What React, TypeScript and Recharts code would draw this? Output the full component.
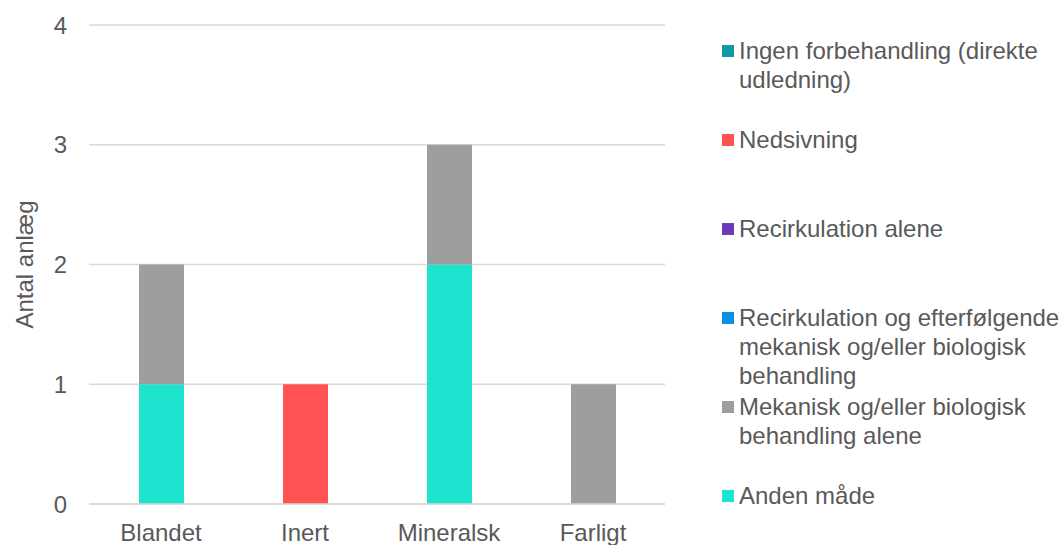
import { BarChart, Bar, XAxis, YAxis, CartesianGrid, Legend } from 'recharts';

const categories = ['Blandet', 'Inert', 'Mineralsk', 'Farligt'];

// stack order, bottom to top
const andenMaade = [1, 0, 2, 0];
const mekaniskAlene = [1, 0, 1, 1];
const recirkOgEfter = [0, 0, 0, 0];
const recirkAlene = [0, 0, 0, 0];
const nedsivning = [0, 1, 0, 0];
const ingenForbehandling = [0, 0, 0, 0];

const yTicks = [0, 1, 2, 3, 4];

const series = [
  { key: 'anden', name: 'Anden måde', color: '#1DE3CF', values: andenMaade },
  { key: 'mekanisk', name: 'Mekanisk og/eller biologisk\nbehandling alene', color: '#9E9E9E', values: mekaniskAlene },
  { key: 'recirkOg', name: 'Recirkulation og efterfølgende\nmekanisk og/eller biologisk\nbehandling', color: '#0A8EE6', values: recirkOgEfter },
  { key: 'recirk', name: 'Recirkulation alene', color: '#6A3AB8', values: recirkAlene },
  { key: 'nedsivning', name: 'Nedsivning', color: '#FF5252', values: nedsivning },
  { key: 'ingen', name: 'Ingen forbehandling (direkte\nudledning)', color: '#0E99A6', values: ingenForbehandling },
];

const data = categories.map((c, i) => {
  const row: Record<string, string | number> = { name: c };
  series.forEach((s) => { row[s.key] = s.values[i]; });
  return row;
});

const font = '"Liberation Sans", Arial, sans-serif';
const ink = '#595959';

function LegendBox() {
  const items = [...series].reverse();
  return (
    <div style={{ fontFamily: font, fontSize: 24, lineHeight: '29px', color: ink }}>
      {items.map((s) => (
        <div key={s.key} style={{ height: 89, display: 'flex', alignItems: 'flex-start' }}>
          <span style={{ width: 12, height: 12, background: s.color, marginTop: 9, marginRight: 5, flexShrink: 0 }} />
          <span style={{ whiteSpace: 'pre-line' }}>{s.name}</span>
        </div>
      ))}
    </div>
  );
}

export default function App() {
  return (
    <div style={{ position: 'absolute', left: 0, top: 0, background: '#fff' }}>
      <BarChart
        width={1063}
        height={545}
        data={data}
        margin={{ top: 25, right: 398, left: 0, bottom: 0 }}
        barSize={45}
      >
        <CartesianGrid stroke="#D9D9D9" strokeWidth={1.3} vertical={false} />
        <XAxis
          dataKey="name"
          height={41}
          axisLine={{ stroke: '#D9D9D9', strokeWidth: 1.3 }}
          tickLine={false}
          tickMargin={14}
          tick={{ fill: ink, fontSize: 24, fontFamily: font }}
        />
        <YAxis
          width={89}
          domain={[0, 4]}
          ticks={yTicks}
          axisLine={false}
          tickLine={false}
          tickMargin={16}
          tick={{ fill: ink, fontSize: 24, fontFamily: font }}
          label={{ value: 'Antal anlæg', angle: -90, position: 'center', dx: -20, fill: ink, fontSize: 24, fontFamily: font }}
        />
        <Legend
          layout="horizontal"
          align="center"
          verticalAlign="middle"
          content={() => <LegendBox />}
          wrapperStyle={{ position: 'absolute', left: 722, top: 36, width: 341 }}
        />
        {series.map((s) => (
          <Bar key={s.key} dataKey={s.key} name={s.name} stackId="a" fill={s.color} isAnimationActive={false} />
        ))}
      </BarChart>
    </div>
  );
}
